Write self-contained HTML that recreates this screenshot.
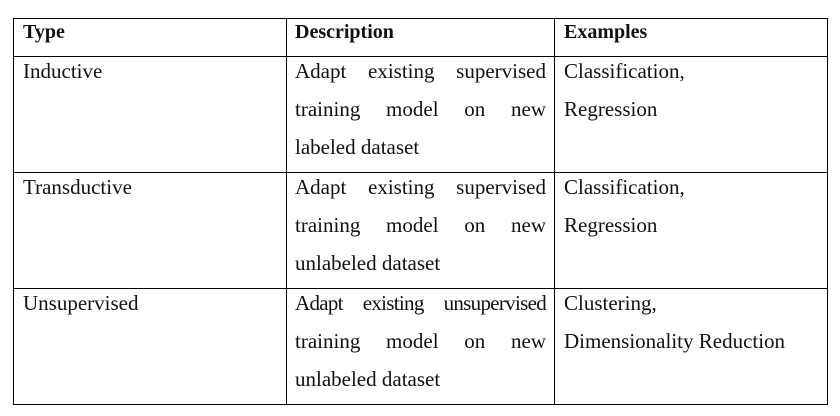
<!DOCTYPE html>
<html><head><meta charset="utf-8"><style>
body{margin:0;width:840px;height:416px;background:#fff;overflow:hidden}
table{position:absolute;left:13px;top:18px;border-collapse:collapse;font-family:"Liberation Serif",serif;font-size:21px;color:#111}
td{border:1.5px solid #000;vertical-align:top;padding:0 9px;line-height:38px}
tr.h td{height:37px;font-weight:bold;line-height:26px;font-size:20px}
tr.r td{height:115px}
td .in{position:relative;top:-5px}
.c1{width:254px}.c2{width:251px;padding:0 8px}.c3{width:254px}
.l{display:block;text-align:justify;text-align-last:justify;white-space:nowrap}
.l.last{text-align-last:left}
</style></head><body>
<table>
<tr class="h"><td class="c1">Type</td><td class="c2">Description</td><td class="c3">Examples</td></tr>
<tr class="r"><td><div class="in">Inductive</div></td><td class="c2"><div class="in"><span class="l">Adapt existing supervised</span><span class="l">training model on new</span><span class="l last">labeled dataset</span></div></td><td><div class="in">Classification,<br>Regression</div></td></tr>
<tr class="r"><td><div class="in">Transductive</div></td><td class="c2"><div class="in"><span class="l">Adapt existing supervised</span><span class="l">training model on new</span><span class="l last">unlabeled dataset</span></div></td><td><div class="in">Classification,<br>Regression</div></td></tr>
<tr class="r"><td><div class="in">Unsupervised</div></td><td class="c2"><div class="in"><span class="l" style="letter-spacing:-0.7px;word-spacing:-2px">Adapt existing unsupervised</span><span class="l">training model on new</span><span class="l last">unlabeled dataset</span></div></td><td><div class="in">Clustering,<br>Dimensionality Reduction</div></td></tr>
</table>
</body></html>
